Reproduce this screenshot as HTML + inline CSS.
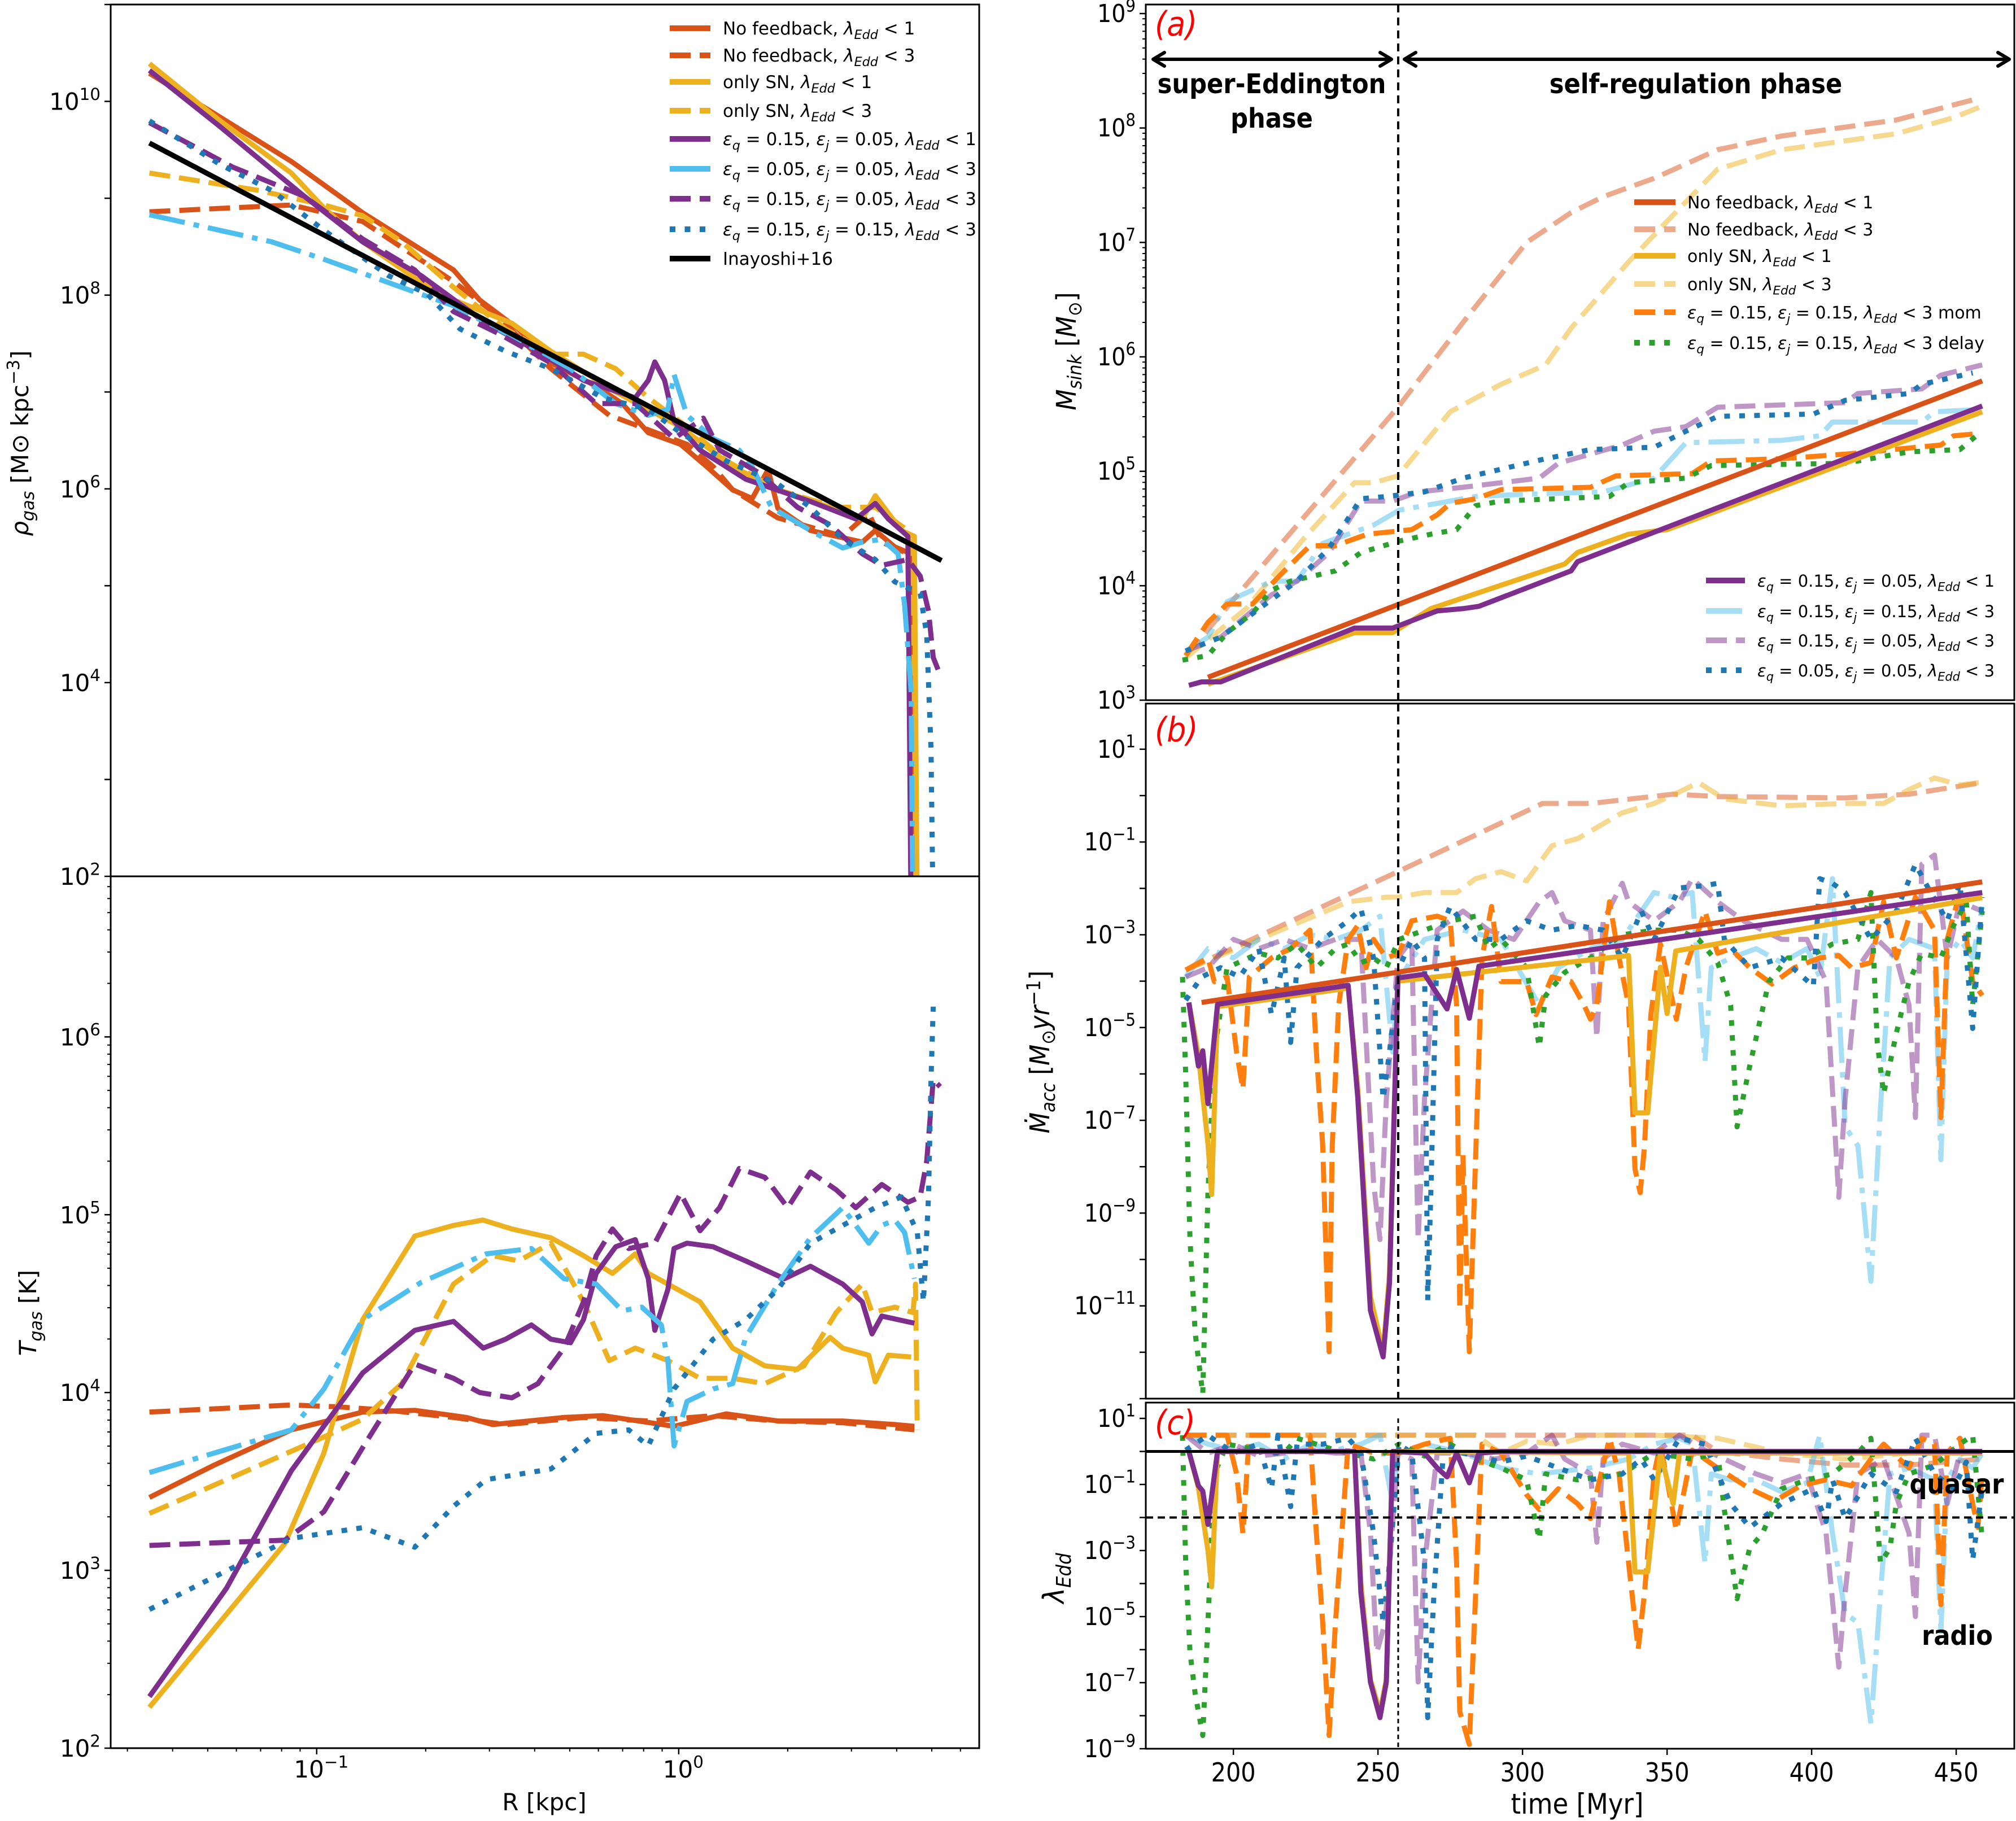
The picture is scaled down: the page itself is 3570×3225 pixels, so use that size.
<!DOCTYPE html>
<html><head><meta charset="utf-8">
<style>
html,body{margin:0;padding:0;background:#fff;}
svg{display:block;font-family:"DejaVu Sans","Liberation Sans",sans-serif;}
.cond{font-stretch:condensed;}
</style></head>
<body>
<svg id="fig" xmlns="http://www.w3.org/2000/svg" width="3570" height="3225" viewBox="0 0 3570 3225"></svg>
<script>
// ---------------- DATA (log10 values) ----------------
const rhoNF1x=[-1.462,-1.07,-0.873,-0.622,-0.55,-0.443,-0.353,-0.228,-0.156,-0.084,0.005,0.077,0.149,0.203,0.247,0.274,0.364,0.507,0.543,0.597,0.642,0.651];
const rhoNF1y=[10.29,9.38,8.85,8.26,7.95,7.65,7.30,7.06,6.88,6.58,6.46,6.23,5.99,5.90,6.2,5.8,5.57,5.45,5.57,5.4,5.33,1.5];
const rhoNF3x=[-1.462,-1.07,-0.873,-0.622,-0.514,-0.353,-0.192,-0.084,0.023,0.095,0.149,0.274,0.453,0.525,0.561,0.633,0.651];
const rhoNF3y=[8.86,8.93,8.76,8.14,7.83,7.24,6.76,6.61,6.46,6.23,5.99,5.7,5.51,5.75,5.45,5.33,1.5];
const rhoSN1x=[-1.462,-1.267,-1.07,-0.98,-0.873,-0.711,-0.622,-0.461,-0.353,-0.174,0.005,0.149,0.274,0.418,0.507,0.543,0.615,0.651,0.659];
const rhoSN1y=[10.39,9.8,9.26,8.9,8.55,8.13,7.95,7.71,7.42,7.0,6.64,6.23,5.99,5.81,5.69,5.93,5.57,5.51,1.5];
const rhoSN3x=[-1.462,-1.159,-0.98,-0.873,-0.765,-0.622,-0.478,-0.353,-0.263,-0.174,-0.084,0.023,0.131,0.274,0.435,0.543,0.633,0.642,0.654];
const rhoSN3y=[9.26,9.08,8.93,8.82,8.55,8.08,7.65,7.39,7.39,7.24,6.94,6.64,6.29,5.99,5.81,5.81,5.57,5.33,1.5];
const rhoP1x=[-1.462,-1.267,-1.034,-0.873,-0.711,-0.532,-0.389,-0.263,-0.12,-0.084,-0.066,-0.039,-0.013,0.059,0.185,0.364,0.489,0.543,0.579,0.633,0.642];
const rhoP1y=[10.32,9.74,9.02,8.55,8.2,7.71,7.42,7.12,6.94,7.12,7.31,7.12,6.70,6.4,6.1,5.87,5.69,5.85,5.69,5.51,1.5];
const rhoLBx=[-1.462,-1.124,-0.98,-0.765,-0.622,-0.443,-0.299,-0.174,-0.084,-0.03,-0.013,0.023,0.095,0.167,0.203,0.256,0.364,0.453,0.507,0.561,0.606,0.624,0.642,0.647];
const rhoLBy=[8.83,8.55,8.37,8.08,7.89,7.54,7.24,6.88,6.76,6.82,7.18,6.76,6.52,6.4,6.23,5.81,5.57,5.39,5.45,5.48,5.33,4.8,3.9,1.5];
const rhoP3x=[-1.462,-1.231,-1.034,-0.873,-0.729,-0.622,-0.496,-0.353,-0.228,-0.12,-0.013,0.068,0.113,0.22,0.328,0.418,0.507,0.561,0.633,0.667,0.69,0.703,0.722];
const rhoP3y=[9.78,9.32,9.02,8.58,8.26,7.83,7.6,7.3,6.88,6.88,6.52,6.73,6.40,6.17,5.81,5.63,5.33,5.21,5.27,5.1,4.74,4.26,4.08];
const rhoBDx=[-1.462,-1.267,-1.124,-0.98,-0.801,-0.694,-0.604,-0.478,-0.353,-0.21,-0.084,0.005,0.131,0.274,0.364,0.453,0.543,0.597,0.667,0.685,0.697,0.703];
const rhoBDy=[9.8,9.35,9.08,8.67,8.2,8.01,7.65,7.42,7.24,6.94,6.82,6.58,6.29,6.05,5.81,5.48,5.27,5.04,4.92,4.5,3.31,1.5];
const rhoInayX=[-1.462,0.726];
const rhoInayY=[9.57,5.26];
const tNF1x=[-1.462,-1.285,-1.07,-0.873,-0.729,-0.586,-0.514,-0.317,-0.21,-0.013,0.131,0.274,0.453,0.597,0.651];
const tNF1y=[3.41,3.59,3.79,3.89,3.9,3.86,3.82,3.86,3.87,3.81,3.88,3.84,3.84,3.82,3.81];
const tNF3x=[-1.462,-1.07,-0.944,-0.801,-0.622,-0.478,-0.263,-0.084,0.095,0.274,0.453,0.651];
const tNF3y=[3.89,3.93,3.92,3.9,3.86,3.82,3.86,3.84,3.87,3.84,3.83,3.79];
const tSN1x=[-1.462,-1.088,-0.98,-0.873,-0.729,-0.622,-0.541,-0.461,-0.353,-0.263,-0.183,-0.12,-0.084,-0.03,0.059,0.149,0.238,0.328,0.418,0.453,0.525,0.543,0.579,0.642];
const tSN1y=[2.23,3.15,3.66,4.41,4.88,4.94,4.97,4.92,4.87,4.77,4.67,4.78,4.67,4.61,4.51,4.25,4.15,4.13,4.31,4.25,4.21,4.06,4.21,4.2];
const tSN3x=[-1.462,-1.159,-0.98,-0.873,-0.765,-0.622,-0.514,-0.443,-0.353,-0.263,-0.192,-0.12,-0.03,0.059,0.149,0.238,0.346,0.435,0.507,0.534,0.597,0.647,0.654,0.659];
const tSN3y=[3.32,3.59,3.75,3.85,4.05,4.61,4.77,4.74,4.84,4.51,4.18,4.25,4.18,4.08,4.08,4.05,4.15,4.45,4.61,4.45,4.48,4.45,4.61,3.79];
const tP1x=[-1.462,-1.249,-1.07,-0.873,-0.729,-0.622,-0.54,-0.478,-0.407,-0.353,-0.299,-0.263,-0.228,-0.174,-0.12,-0.084,-0.066,-0.03,-0.013,0.023,0.095,0.185,0.292,0.364,0.453,0.507,0.534,0.561,0.651];
const tP1y=[2.29,2.9,3.56,4.11,4.35,4.4,4.25,4.3,4.38,4.3,4.28,4.41,4.67,4.82,4.86,4.64,4.35,4.58,4.81,4.84,4.82,4.74,4.64,4.71,4.61,4.51,4.33,4.43,4.39];
const tP3x=[-1.462,-1.088,-0.98,-0.873,-0.729,-0.622,-0.55,-0.461,-0.389,-0.317,-0.263,-0.228,-0.183,-0.138,-0.066,0.005,0.059,0.113,0.167,0.238,0.301,0.364,0.435,0.489,0.561,0.633,0.667,0.685,0.703,0.722];
const tP3y=[3.14,3.17,3.33,3.69,4.16,4.08,4.0,3.97,4.05,4.25,4.51,4.77,4.92,4.81,4.84,5.12,4.91,5.04,5.26,5.21,5.04,5.24,5.14,5.04,5.17,5.07,5.1,5.3,5.76,5.72];
const tLBx=[-1.462,-1.07,-0.98,-0.873,-0.711,-0.532,-0.407,-0.317,-0.228,-0.156,-0.102,-0.048,-0.03,-0.013,0.023,0.095,0.149,0.185,0.274,0.364,0.453,0.525,0.561,0.597,0.624,0.651];
const tLBy=[3.55,3.79,4.02,4.41,4.62,4.78,4.81,4.64,4.61,4.46,4.48,4.38,4.18,3.7,3.95,4.02,4.05,4.31,4.61,4.87,5.04,4.84,4.94,4.97,4.9,4.64];
const tBDx=[-1.462,-1.07,-0.873,-0.729,-0.622,-0.532,-0.353,-0.228,-0.138,-0.084,-0.013,0.095,0.185,0.274,0.364,0.453,0.543,0.615,0.659,0.676,0.69,0.697,0.703];
const tBDy=[2.78,3.18,3.24,3.13,3.36,3.51,3.57,3.77,3.79,3.7,4.02,4.3,4.41,4.58,4.84,4.94,5.04,5.1,4.9,4.51,5.1,5.76,6.17];

const aNF1t=[191.2,459];
const aNF1v=[3.2,5.79];
const aNF3t=[183.5,256.9,279.4,301.4,316.8,327.9,345.5,367.5,389.6,429.3,457.9];
const aNF3v=[3.39,5.56,6.3,7.0,7.26,7.40,7.56,7.81,7.93,8.07,8.26];
const aSN1t=[191.2,241.9,255.1,268.3,314.6,319,336.7,350,459];
const aSN1v=[3.14,3.59,3.59,3.80,4.19,4.29,4.45,4.49,5.52];
const aSN3t=[183.5,204.4,224.3,241.9,248.5,256.9,275,292.6,308,316.8,336.7,352.1,367.5,389.6,429.3,449.1,457.9];
const aSN3v=[3.37,3.8,4.41,4.9,4.9,4.96,5.52,5.76,5.93,6.25,6.83,7.24,7.64,7.81,7.95,8.09,8.18];
const aP1t=[184.6,189,195.6,241.9,255.1,270.5,279.4,284.9,316.8,319,459];
const aP1v=[3.13,3.16,3.16,3.63,3.63,3.78,3.8,3.82,4.13,4.21,5.57];
const aLBt=[183.5,191.2,197.8,213.2,222,230.9,248.5,257.3,266.1,283.8,301.4,327.9,345.5,356.5,389.6,402.8,407.2,438.1,442.5,459];
const aLBv=[3.43,3.55,3.86,4.04,4.04,4.37,4.53,4.66,4.7,4.78,4.8,4.82,4.94,5.25,5.27,5.31,5.43,5.43,5.52,5.54];
const aPPt=[183.5,195.6,213.2,222,233.1,244.1,255.1,263.9,279.4,305.8,312.4,334.5,345.5,356.5,367.5,411.6,416,438.1,444.7,459];
const aPPv=[3.43,3.55,3.92,4.04,4.29,4.74,4.74,4.82,4.86,4.94,5.07,5.23,5.35,5.39,5.56,5.6,5.68,5.72,5.84,5.93];
const aBDt=[183.5,195.6,213.2,222,233.1,244.1,252.9,266.1,279.4,308,323.5,345.5,356.5,367.5,400.6,411.6,433.7,438.1,455.7];
const aBDv=[3.43,3.55,3.88,4.04,4.33,4.76,4.78,4.82,4.94,5.11,5.19,5.21,5.35,5.48,5.5,5.62,5.68,5.76,5.86];
const aORt=[183.5,191.2,197.8,206.6,217.6,226.5,235.3,246.3,261.7,270.5,275,283.8,292.6,323.5,332.3,358.7,365.3,389.6,411.6,444.7,449.1,457.9];
const aORv=[3.39,3.68,3.84,3.84,4.13,4.35,4.35,4.45,4.49,4.62,4.72,4.76,4.84,4.86,4.96,4.98,5.09,5.11,5.15,5.23,5.31,5.33];
const aGRt=[182.4,191.2,197.8,206.6,213.2,219.8,235.3,244.1,257.3,268.3,277.2,283.8,292.6,330.1,336.7,356.5,365.3,411.6,433.7,451.3,457.9];
const aGRv=[3.35,3.39,3.59,3.76,3.96,4.04,4.13,4.29,4.39,4.45,4.49,4.7,4.74,4.78,4.9,4.94,5.05,5.07,5.17,5.19,5.33];

const bNF1t=[189,459];
const bNF1v=[-4.46,-1.86];
const bNF3t=[183.5,256.9,306.9,323.5,352.1,367.5,411.6,433.7,459];
const bNF3v=[-3.76,-1.64,-0.17,-0.17,0.03,-0.02,-0.05,0.03,0.28];
const bSN3t=[183.5,239.7,252.9,256.9,266.1,277.2,283.8,292.6,301.4,310.2,319,334.5,345.5,354.3,360.9,369.8,389.6,411.6,424.9,433.7,442.5,451.3,457.9];
const bSN3v=[-3.76,-2.29,-2.19,-2.19,-2.09,-2.09,-1.79,-1.64,-1.84,-1.08,-0.93,-0.37,-0.17,0.08,0.28,-0.07,-0.22,-0.17,-0.17,0.13,0.38,0.23,0.28];
const bP1t=[184.6,187.9,189.4,191.2,194.5,239.7,243,247.4,251.8,254,256.9,266.1,273.9,277.2,281.6,284.9,459];
const bP1v=[-4.46,-5.83,-5.5,-6.64,-4.5,-4.09,-6.5,-11.1,-12.1,-10.5,-3.93,-3.85,-4.6,-3.75,-4.8,-3.68,-2.09];
const bSN1t=[184.6,187.9,191.2,192.5,194.5,239.7,243,247.4,251.8,254,256.9,336.7,338.9,343.3,347.7,350,353,459];
const bSN1v=[-4.46,-5.6,-7.5,-8.6,-4.55,-4.15,-6.3,-10.8,-12.0,-10.3,-4.0,-3.45,-6.84,-6.84,-3.7,-4.7,-3.35,-2.2];
const bORt=[183.5,191.2,193.4,197.8,201.1,203.3,205.5,213.2,219.8,226.5,228.7,230.9,233.1,234.2,236.4,239.7,243,245.9,248.5,252.9,257.3,261.7,270.5,275,277.2,278.3,279.4,281.6,283.8,286,289.3,292.6,301.4,304.7,310.2,316.8,321.3,323.5,325.7,330.1,333.4,336.7,338.9,340.7,342.2,344.4,347.7,353.2,356.5,363.1,367.5,372,378.6,386.3,394,402.8,409.4,413.8,420.5,424.9,429.3,435.9,442.5,444.7,446.9,451.3,455.7,459];
const bORv=[-3.76,-3.5,-4.01,-3.91,-5.53,-6.33,-3.91,-3.5,-3.3,-2.9,-5.53,-7.55,-11.99,-7.55,-4.52,-3.1,-2.8,-3.71,-3.1,-3.5,-3.4,-2.7,-2.6,-2.7,-4.52,-11.08,-7.75,-11.99,-7.75,-3.5,-2.39,-4.01,-4.01,-4.72,-3.91,-4.01,-4.52,-4.82,-4.52,-2.29,-3.5,-4.52,-8.05,-8.56,-7.55,-4.72,-3.2,-4.82,-3.71,-2.49,-3.4,-3.3,-3.71,-4.06,-3.71,-3.5,-3.45,-3.71,-3.6,-2.29,-3.5,-2.19,-2.9,-6.94,-3.1,-2.09,-4.01,-4.31];
const bGRt=[182.4,183.5,185,186.8,189.4,191.2,193.4,197.8,208.8,215.4,222,228.7,235.3,239.7,244.1,248.5,252.9,257.3,266.1,275,283.8,288.2,292.6,301.4,305.8,308,314.6,323.5,334.5,345.5,354.3,360.9,367.5,372,374.2,378.6,385.2,391.8,398.4,407.2,416,420.5,422.7,424.9,429.3,433.7,438.1,444.7,449.1,453.5,455.7,459];
const bGRv=[-3.91,-6.03,-9.57,-11.59,-12.9,-8.56,-5.53,-3.71,-3.4,-3.5,-3.2,-3.71,-3.3,-3.2,-3.6,-3.5,-3.71,-3.1,-2.9,-2.7,-2.6,-3.3,-3.1,-3.71,-5.42,-4.31,-3.81,-3.5,-3,-2.9,-2.9,-3.1,-3.6,-4.52,-7.14,-5.83,-4.01,-3.5,-3.5,-3.2,-3.1,-2.09,-5.32,-6.43,-5.12,-4.01,-3.4,-3.5,-2.8,-2.29,-4.52,-2.49];
const bBDt=[183.5,189,195.6,202.2,208.8,213.2,217.6,219.8,222,230.9,239.7,244.1,248.5,251.8,254,257.3,261.7,266.1,267.2,268.3,270.5,275,283.8,292.6,301.4,310.2,319,327.9,334.5,341.1,345.5,354.3,363.1,367.5,369.8,378.6,389.6,400.6,402.8,407.2,411.6,420.5,429.3,435.9,440.3,446.9,451.3,455.7,459];
const bBDv=[-4.41,-3.91,-3.71,-3.91,-3.3,-4.72,-3.5,-5.32,-3.71,-3.1,-2.7,-2.44,-3.5,-6.54,-5.53,-3.71,-3.1,-3.5,-10.88,-8.56,-3.1,-2.39,-3.1,-3.1,-2.7,-2.9,-2.8,-2.9,-3.5,-2.49,-3.1,-1.99,-1.94,-1.89,-3.1,-3.71,-3.5,-4.11,-1.79,-1.89,-2.09,-3.1,-2.49,-1.48,-1.99,-2.7,-1.89,-5.02,-2.19];
const bLBt=[183.5,191.2,200,208.8,217.6,226.5,235.3,244.1,250.7,255.1,256.9,266.1,279.4,292.6,305.8,312.4,323.5,334.5,345.5,352.1,358.7,363.1,365.3,372,380.8,389.6,398.4,402.8,407.2,411.6,416,420.5,423.8,427.1,433.7,442.5,444.7,446.9,451.3,455.7,459];
const bLBv=[-3.91,-3.3,-3.5,-3.1,-3.3,-3,-3.1,-2.9,-2.6,-5.53,-4.01,-3.1,-2.9,-3.1,-4.52,-3.71,-3.3,-3.1,-2.09,-2.19,-2.09,-5.73,-3.71,-3.5,-3.3,-3.6,-3.3,-3.91,-1.79,-7.14,-7.55,-10.47,-6.74,-3.5,-3.1,-3.3,-7.85,-3.5,-3.1,-3.5,-2.39];
const bPPt=[183.5,191.2,200,208.8,217.6,226.5,235.3,244.1,248.5,250.7,252.9,256.9,261.7,263.9,266.1,270.5,279.4,288.2,297,305.8,310.2,314.6,323.5,325.7,327.9,334.5,336.7,345.5,354.3,358.7,367.5,376.4,389.6,398.4,405,409.4,411.6,416,422.7,429.3,433.7,435.9,438.1,442.5,446.9,451.3,459];
const bPPv=[-3.91,-3.71,-3.1,-3.3,-3.1,-3.3,-3.1,-3.1,-8.35,-9.57,-6.54,-3.5,-3.1,-9.57,-6.54,-2.9,-2.49,-2.9,-3.1,-2.29,-2.09,-2.7,-2.9,-5.22,-2.7,-1.89,-2.29,-2.7,-2.29,-1.79,-2.29,-2.7,-3.1,-3.1,-4.01,-8.66,-6.54,-3.71,-3.1,-3.5,-4.52,-6.94,-1.48,-1.28,-3.5,-2.29,-2.49];

const cNF3t=[183.5,358.7,367.5,389.6,411.6,433.7,459];
const cNF3v=[0.49,0.49,0.0,-0.23,-0.41,-0.41,-0.23];
const cSN3t=[183.5,283.8,292.6,301.4,312.4,323.5,345.5,367.5,389.6,411.6,433.7,459];
const cSN3v=[0.49,0.49,-0.05,0.31,0.22,0.49,0.49,0.4,-0.05,-0.23,-0.05,-0.05];
const cP1t=[184.6,187.9,189.4,191.2,194.5,241.9,244.1,247.4,250.7,252.9,255.1,266.1,270.5,273.9,277.2,281.6,284.9,292.6,459];
const cP1v=[0,-1.04,-1.2,-2.21,0,0,-4.28,-6.98,-8.06,-6.98,0,-0.05,-0.5,-0.77,-0.05,-0.95,-0.05,0,0];
const cSN1t=[184.6,187.9,191.2,192.5,194.5,241.9,244.1,247.4,250.7,252.9,255.1,336.7,338.9,343.3,347.7,352.1,354.3,459];
const cSN1v=[0,-1.1,-3.0,-4.1,0,0,-4.0,-6.9,-7.9,-6.9,0,-0.05,-3.65,-3.65,-0.05,-1.58,-0.05,-0.05];
const cORt=[183.5,197.8,201.1,203.3,205.5,226.5,228.7,230.9,233.1,235.3,239.7,248.5,257.3,266.1,275,277.2,278.3,281.6,283.8,286,292.6,301.4,305.8,312.4,319,323.5,330.1,333.4,336.7,340,342.2,345.5,347.7,353.2,358.7,367.5,378.6,387.4,396.2,405,413.8,420.5,424.9,433.7,438.1,442.5,444.7,446.9,451.3,455.7,457.5,459];
const cORv=[0.49,0.49,-0.68,-2.48,0.49,0.49,-2.48,-5.18,-8.6,-5.18,0.22,-0.05,-0.05,0.22,0.4,-3.38,-7.88,-8.87,-4.28,0.22,-0.05,-1.31,-1.76,-1.13,-1.58,-2.03,0.4,-0.68,-3.38,-5.99,-4.28,-0.68,0.22,-2.39,0.04,-0.5,-1.13,-1.49,-1.04,-0.86,-1.04,-0.23,0.22,-0.5,0.4,0.22,-4.64,-0.05,0.4,-1.58,-2.3,-0.68];
const cGRt=[182.4,183.5,185,186.8,189.4,191.2,193.4,197.8,208.8,217.6,222,235.3,248.5,257.3,266.1,275,283.8,292.6,301.4,305.8,308,319,334.5,345.5,358.7,367.5,369.8,374.2,378.6,383,389.6,398.4,407.2,416,420.5,423.8,427.1,429.3,433.7,442.5,451.3,455.7,459];
const cGRv=[0.49,-3.38,-6.08,-7.34,-8.6,-5.18,-0.68,0.22,0.04,-0.05,0.4,0.04,-0.23,0.22,-0.14,0.22,-0.23,-0.5,-0.86,-2.66,-0.68,-0.86,-0.68,-0.05,-0.23,-0.05,-1.76,-4.46,-2.93,-2.48,-1.13,-0.86,-0.68,-0.05,0.4,-3.38,-2.93,-1.58,-0.68,-0.41,0.22,0.49,-2.66];
const cBDt=[183.5,191.2,200,208.8,213.2,215.4,219.8,222,230.9,239.7,244.1,248.5,251.8,254,257.3,261.7,266.1,267.2,269.4,272.8,279.4,292.6,301.4,312.4,323.5,334.5,341.1,345.5,354.3,363.1,372,378.6,389.6,400.6,405,407.2,411.6,420.5,429.3,435.9,442.5,449.1,453.5,455.7,459];
const cBDv=[0.04,0.49,-0.05,0.22,-1.13,0.49,-1.67,0.22,0.22,0.4,-0.05,-2.48,-5.18,-3.38,0.22,-0.05,-3.38,-8.06,-4.28,0.22,-0.05,-0.32,-0.14,-0.5,-0.86,-0.68,-0.23,-0.86,0.4,0.22,-1.58,-2.3,-1.58,-1.13,-2.12,-0.86,-2.03,-0.68,-1.22,0.4,-0.68,-1.13,-0.32,-3.29,-1.13];
const cLBt=[183.5,191.2,200,208.8,217.6,226.5,235.3,244.1,250.7,255.1,256.9,266.1,279.4,292.6,305.8,323.5,336.7,345.5,354.3,358.7,363.1,365.3,372,380.8,389.6,398.4,402.8,407.2,411.6,416,420.5,423.8,427.1,433.7,442.5,444.7,446.9,451.3,455.7,459];
const cLBv=[0.49,0.22,0.04,0.22,-0.23,0.22,0.04,0.22,0.49,-1.58,-0.05,0.22,-0.05,-0.5,-0.68,-0.5,-0.23,0.22,0.4,0.22,-3.38,-0.68,-0.86,-0.86,-1.22,-0.95,0.49,-2.48,-4.91,-5.18,-8.24,-4.28,-0.68,-0.5,-0.86,-5.45,-0.86,-0.23,-0.5,-0.05];
const cPPt=[183.5,191.2,200,208.8,217.6,226.5,235.3,244.1,247.4,249.6,252.5,256.9,261.7,263.9,266.1,270.5,279.4,290.4,301.4,310.2,314.6,323.5,325.7,327.9,334.5,345.5,354.3,363.1,372,380.8,389.6,398.4,405,409.4,411.6,416,424.9,433.7,435.9,438.1,442.5,446.9,451.3,459];
const cPPv=[0.49,-0.05,0.22,-0.14,-0.05,0.04,-0.05,-0.05,-2.48,-6.08,-5.18,-0.05,-0.23,-6.98,-3.38,-0.05,-0.05,-0.23,-0.05,0.49,-0.23,-0.68,-2.75,-0.23,0.22,-0.05,0.49,0.04,-0.32,-0.68,-0.95,-0.68,-2.48,-6.53,-4.28,-0.68,-0.23,-2.48,-5.0,0.49,0.49,-1.58,-0.05,-0.05];
const cQuasarLine=[0];
const cRadioLine=[-2];
const phaseSplit=[257];

// ---------------- RENDERING ----------------
const NS='http://www.w3.org/2000/svg';
const fig=document.getElementById('fig');
function el(tag,attrs,parent){const e=document.createElementNS(NS,tag);for(const k in attrs)e.setAttribute(k,attrs[k]);(parent||fig).appendChild(e);return e;}

const C={red:'#d95319',yel:'#edb120',pur:'#7e2f8e',lb:'#4dbeee',bd:'#1f77b4',or:'#ff7f0e',gr:'#2ca02c'};
const DASH={solid:null,dashed:'37 16',dotted:'10 16.5',dashdot:'64 16 10 16'};

function mkPanel(id,x0,x1,y0,y1,xmin,xmax,ymin,ymax,xlog){
  const p={x0,x1,y0,y1,xmin,xmax,ymin,ymax,xlog};
  p.fx=v=>x0+(v-xmin)/(xmax-xmin)*(x1-x0);
  p.fy=v=>y1-(v-ymin)/(ymax-ymin)*(y1-y0);
  const cp=el('clipPath',{id:'clip-'+id});
  el('rect',{x:x0,y:y0,width:x1-x0,height:y1-y0},cp);
  p.g=el('g',{'clip-path':'url(#clip-'+id+')'});
  
  
  return p;
}
function series(p,xs,ys,color,style,width,opacity,name){
  const n=Math.min(xs.length,ys.length);let d='';
  for(let i=0;i<n;i++){d+=(i?'L':'M')+p.fx(xs[i]).toFixed(1)+','+p.fy(ys[i]).toFixed(1);}
  const e=el('path',{d:d,fill:'none',stroke:color,'stroke-width':width||9,'stroke-linejoin':'round','stroke-opacity':opacity||1},p.g);
  if(DASH[style])e.setAttribute('stroke-dasharray',DASH[style]);
  
  
  return e;
}
function frame(p,name){
  const r=el('rect',{x:p.x0,y:p.y0,width:p.x1-p.x0,height:p.y1-p.y0,fill:'none',stroke:'#000','stroke-width':3});
  
  
}
function powLabel(x,y,exp,size,anchor,cls,name){
  const t=el('text',{x:x,y:y,'font-size':size,'text-anchor':anchor||'end',fill:'#000'});
  if(cls)t.setAttribute('class',cls);
  t.innerHTML='10<tspan dy="'+(-size*0.42)+'" font-size="'+(size*0.7)+'">'+String(exp).replace('-','\u2212')+'</tspan>';
  
  
  return t;
}
function yTicks(p,labels,allDec,minor,size,cls,prefix){
  for(let e=Math.ceil(p.ymin);e<=Math.floor(p.ymax);e++){
    const y=p.fy(e);
    if(allDec||labels.includes(e)){el('line',{x1:p.x0-11,x2:p.x0,y1:y,y2:y,stroke:'#000','stroke-width':2.5});}
    if(labels.includes(e)){powLabel(p.x0-18,y+15,e,size,'end',cls,prefix+'-tick-'+e);}
  }
  if(minor){
    for(let e=Math.floor(p.ymin);e<=Math.ceil(p.ymax);e++){
      for(let m=2;m<10;m++){const v=e+Math.log10(m);if(v>p.ymin&&v<p.ymax){const y=p.fy(v);el('line',{x1:p.x0-6,x2:p.x0,y1:y,y2:y,stroke:'#000','stroke-width':2});}}
    }
  }
}

const XL0=196,XL1=1734;
const rho=mkPanel('density-panel',XL0,XL1,8,1552,-1.569,0.83,2,11,true);
const tem=mkPanel('temperature-panel',XL0,XL1,1552,3096,-1.569,0.83,2,6.903,true);

series(rho,rhoInayX,rhoInayY,'#000','solid',9,1,'inayoshi-line');
series(rho,rhoNF1x,rhoNF1y,C.red,'solid',9,1,'rho-no-feedback-l1');
series(rho,rhoNF3x,rhoNF3y,C.red,'dashed',9,1,'rho-no-feedback-l3');
series(rho,rhoSN1x,rhoSN1y,C.yel,'solid',9,1,'rho-only-sn-l1');
series(rho,rhoSN3x,rhoSN3y,C.yel,'dashed',9,1,'rho-only-sn-l3');
series(rho,rhoP1x,rhoP1y,C.pur,'solid',9,1,'rho-eq015-ej005-l1');
series(rho,rhoLBx,rhoLBy,C.lb,'dashdot',9,1,'rho-eq005-ej005-l3');
series(rho,rhoP3x,rhoP3y,C.pur,'dashed',9,1,'rho-eq015-ej005-l3');
series(rho,rhoBDx,rhoBDy,C.bd,'dotted',9,1,'rho-eq015-ej015-l3');
series(rho,rhoInayX,rhoInayY,'#000','solid',9,1,'inayoshi-line-top');

series(tem,tNF1x,tNF1y,C.red,'solid',9,1,'t-no-feedback-l1');
series(tem,tNF3x,tNF3y,C.red,'dashed',9,1,'t-no-feedback-l3');
series(tem,tSN1x,tSN1y,C.yel,'solid',9,1,'t-only-sn-l1');
series(tem,tSN3x,tSN3y,C.yel,'dashed',9,1,'t-only-sn-l3');
series(tem,tP1x,tP1y,C.pur,'solid',9,1,'t-eq015-ej005-l1');
series(tem,tLBx,tLBy,C.lb,'dashdot',9,1,'t-eq005-ej005-l3');
series(tem,tP3x,tP3y,C.pur,'dashed',9,1,'t-eq015-ej005-l3');
series(tem,tBDx,tBDy,C.bd,'dotted',9,1,'t-eq015-ej015-l3');

frame(rho,'density-axes-frame');
frame(tem,'temperature-axes-frame');
yTicks(rho,[2,4,6,8,10],true,false,42,'','density-y');
yTicks(tem,[2,3,4,5,6],true,true,42,'','temperature-y');
for(let e=-2;e<=1;e++){
  for(let m=1;m<10;m++){
    const v=e+Math.log10(m);if(v<tem.xmin||v>tem.xmax)continue;
    const x=tem.fx(v);
    el('line',{x1:x,x2:x,y1:3096,y2:3096+(m===1?11:6),stroke:'#000','stroke-width':m===1?2.5:2});
    if(m===1)powLabel(x+8,3148,e,42,'middle','','r-tick-'+e);
  }
}
let t;
t=el('text',{x:964,y:3206,'font-size':42,'text-anchor':'middle'});t.textContent='R [kpc]';

t=el('text',{x:0,y:0,'font-size':42,'text-anchor':'middle',transform:'translate(50,785) rotate(-90)'});
t.innerHTML='<tspan font-style="italic">ρ</tspan><tspan font-style="italic" font-size="30" dy="10">gas</tspan><tspan dy="-10"> [M</tspan><tspan>⊙</tspan><tspan> kpc</tspan><tspan font-size="30" dy="-16">−3</tspan><tspan dy="16">]</tspan>';

t=el('text',{x:0,y:0,'font-size':42,'text-anchor':'middle',transform:'translate(64,2325) rotate(-90)'});
t.innerHTML='<tspan font-style="italic">T</tspan><tspan font-style="italic" font-size="30" dy="10">gas</tspan><tspan dy="-10"> [K]</tspan>';


function legendText(x,y,pre,lam,size){
  const tt=el('text',{x:x,y:y,'font-size':size});
  let s=pre;
  s+='<tspan font-style="italic">λ</tspan><tspan font-style="italic" font-size="'+(size*0.72)+'" dy="'+(size*0.25)+'">Edd</tspan><tspan dy="'+(-size*0.25)+'"> &lt; '+lam+'</tspan>';
  tt.innerHTML=s;return tt;
}
function eps(q,j,size){return '<tspan font-style="italic">ε</tspan><tspan font-style="italic" font-size="'+(size*0.72)+'" dy="'+(size*0.25)+'">q</tspan><tspan dy="'+(-size*0.25)+'"> = '+q+', </tspan><tspan font-style="italic">ε</tspan><tspan font-style="italic" font-size="'+(size*0.72)+'" dy="'+(size*0.25)+'">j</tspan><tspan dy="'+(-size*0.25)+'"> = '+j+', </tspan>';}
function legendEntry(lx0,lx1,tx,y,color,style,op,pre,lam,suffix,name,fs){
  fs=fs||31;
  const g=el('g',{});
  
  
  const ln=el('line',{x1:lx0,x2:lx1,y1:y,y2:y,stroke:color,'stroke-width':10,'stroke-opacity':op},g);
  if(DASH[style])ln.setAttribute('stroke-dasharray',DASH[style]);
  let tx2;
  if(lam===null){tx2=el('text',{x:tx,y:y+11,'font-size':fs},g);tx2.textContent=pre;}
  else{tx2=legendText(tx,y+11,pre,lam,fs);g.appendChild(tx2);if(suffix){tx2.innerHTML+='<tspan>'+suffix+'</tspan>';}}
}
const LL=[
 [C.red,'solid',1,'No feedback, ','1','','legend-no-feedback-l1'],
 [C.red,'dashed',1,'No feedback, ','3','','legend-no-feedback-l3'],
 [C.yel,'solid',1,'only SN, ','1','','legend-only-sn-l1'],
 [C.yel,'dashed',1,'only SN, ','3','','legend-only-sn-l3'],
 [C.pur,'solid',1,eps('0.15','0.05',31),'1','','legend-eq015-ej005-l1'],
 [C.lb,'solid',1,eps('0.05','0.05',31),'3','','legend-eq005-ej005-l3'],
 [C.pur,'dashed',1,eps('0.15','0.05',31),'3','','legend-eq015-ej005-l3'],
 [C.bd,'dotted',1,eps('0.15','0.15',31),'3','','legend-eq015-ej015-l3']];
const LLy=[50,98,145,196,246,299,352,406];
LL.forEach((r,i)=>legendEntry(1186,1258,1280,LLy[i],r[0],r[1],r[2],r[3],r[4],r[5],r[6]));
legendEntry(1186,1258,1280,458,'#000','solid',1,'Inayoshi+16',null,'','legend-inayoshi');

const XR0=2029,XR1=3567,TMIN=169.7,TMAX=470.1;
const pa=mkPanel('mass-panel',XR0,XR1,8,1240,TMIN,TMAX,3,9+16/202.6,false);
const pb=mkPanel('accretion-panel',XR0,XR1,1246,2477,TMIN,TMAX,-13,1+81/82.3,false);
const pc=mkPanel('eddington-panel',XR0,XR1,2484,3097,TMIN,TMAX,-9,1+28/58.5,false);

function drawSet(p,pre,S){
  S.forEach(s=>series(p,s[0],s[1],s[2],s[3],9,s[4],pre+'-'+s[5]));
}
drawSet(pa,'mass',[
 [aNF3t,aNF3v,C.red,'dashed',0.5,'no-feedback-l3'],
 [aSN3t,aSN3v,C.yel,'dashed',0.5,'only-sn-l3'],
 [aLBt,aLBv,C.lb,'dashdot',0.5,'eq015-ej015-l3'],
 [aPPt,aPPv,C.pur,'dashed',0.5,'eq015-ej005-l3'],
 [aORt,aORv,C.or,'dashed',1,'eq015-ej015-mom'],
 [aGRt,aGRv,C.gr,'dotted',1,'eq015-ej015-delay'],
 [aBDt,aBDv,C.bd,'dotted',1,'eq005-ej005-l3'],
 [aNF1t,aNF1v,C.red,'solid',1,'no-feedback-l1'],
 [aSN1t,aSN1v,C.yel,'solid',1,'only-sn-l1'],
 [aP1t,aP1v,C.pur,'solid',1,'eq015-ej005-l1']]);
drawSet(pb,'mdot',[
 [bNF3t,bNF3v,C.red,'dashed',0.5,'no-feedback-l3'],
 [bSN3t,bSN3v,C.yel,'dashed',0.5,'only-sn-l3'],
 [bLBt,bLBv,C.lb,'dashdot',0.5,'eq015-ej015-l3'],
 [bPPt,bPPv,C.pur,'dashed',0.5,'eq015-ej005-l3'],
 [bORt,bORv,C.or,'dashed',1,'eq015-ej015-mom'],
 [bGRt,bGRv,C.gr,'dotted',1,'eq015-ej015-delay'],
 [bBDt,bBDv,C.bd,'dotted',1,'eq005-ej005-l3'],
 [bNF1t,bNF1v,C.red,'solid',1,'no-feedback-l1'],
 [bSN1t,bSN1v,C.yel,'solid',1,'only-sn-l1'],
 [bP1t,bP1v,C.pur,'solid',1,'eq015-ej005-l1']]);
drawSet(pc,'lambda',[
 [cNF3t,cNF3v,C.red,'dashed',0.5,'no-feedback-l3'],
 [cSN3t,cSN3v,C.yel,'dashed',0.5,'only-sn-l3'],
 [cLBt,cLBv,C.lb,'dashdot',0.5,'eq015-ej015-l3'],
 [cPPt,cPPv,C.pur,'dashed',0.5,'eq015-ej005-l3'],
 [cORt,cORv,C.or,'dashed',1,'eq015-ej015-mom'],
 [cGRt,cGRv,C.gr,'dotted',1,'eq015-ej015-delay'],
 [cBDt,cBDv,C.bd,'dotted',1,'eq005-ej005-l3'],
 [cSN1t,cSN1v,C.yel,'solid',1,'only-sn-l1'],
 [cP1t,cP1v,C.pur,'solid',1,'eq015-ej005-l1']]);
let hl=el('line',{x1:XR0,x2:XR1,y1:pc.fy(cQuasarLine[0]),y2:pc.fy(cQuasarLine[0]),stroke:'#000','stroke-width':5},pc.g);

hl=el('line',{x1:XR0,x2:XR1,y1:pc.fy(cRadioLine[0]),y2:pc.fy(cRadioLine[0]),stroke:'#000','stroke-width':4,'stroke-dasharray':'13 8'},pc.g);

[pa,pb,pc].forEach((p,i)=>{
  const v=el('line',{x1:p.fx(phaseSplit[0]),x2:p.fx(phaseSplit[0]),y1:p.y0+(i==2?28:0),y2:p.y1,stroke:'#000','stroke-width':i==2?3:4,'stroke-dasharray':i==2?'8 6':'14 9'});
  
});
frame(pa,'mass-axes-frame');frame(pb,'accretion-axes-frame');frame(pc,'eddington-axes-frame');
yTicks(pa,[3,4,5,6,7,8,9],true,true,44,'cond','mass-y');
yTicks(pb,[1,-1,-3,-5,-7,-9,-11],true,false,44,'cond','mdot-y');
yTicks(pc,[1,-1,-3,-5,-7,-9],true,false,44,'cond','lambda-y');
const TT=[200,250,300,350,400,450];
TT.forEach(v=>{const x=pc.fx(v);el('line',{x1:x,x2:x,y1:3097,y2:3108,stroke:'#000','stroke-width':2.5});
  const tx=el('text',{x:x,y:3155,'font-size':46,'text-anchor':'middle',class:'cond'});tx.textContent=v;
  });
t=el('text',{x:2793,y:3212,'font-size':50,'text-anchor':'middle',class:'cond'});t.textContent='time [Myr]';

t=el('text',{x:0,y:0,'font-size':48,'text-anchor':'middle',class:'cond',transform:'translate(1905,622) rotate(-90)'});
t.innerHTML='<tspan font-style="italic">M</tspan><tspan font-style="italic" font-size="34" dy="10">sink</tspan><tspan dy="-10"> [</tspan><tspan font-style="italic">M</tspan><tspan font-size="34" dy="10">⊙</tspan><tspan dy="-10">]</tspan>';

t=el('text',{x:0,y:0,'font-size':48,'text-anchor':'middle',class:'cond',transform:'translate(1858,1863) rotate(-90)'});
t.innerHTML='<tspan font-style="italic">Ṁ</tspan><tspan font-style="italic" font-size="34" dy="10">acc</tspan><tspan dy="-10"> [</tspan><tspan font-style="italic">M</tspan><tspan font-size="34" dy="10">⊙</tspan><tspan dy="-10" font-style="italic">yr</tspan><tspan font-size="34" dy="-16">−1</tspan><tspan dy="16">]</tspan>';

t=el('text',{x:0,y:0,'font-size':52,'text-anchor':'middle',class:'cond',transform:'translate(1884,2795) rotate(-90)'});
t.innerHTML='<tspan font-style="italic">λ</tspan><tspan font-style="italic" font-size="36" dy="12">Edd</tspan>';

[['(a)',63,'panel-label-a'],['(b)',1313,'panel-label-b'],['(c)',2540,'panel-label-c']].forEach(r=>{
  const tx=el('text',{x:2045,y:r[1],'font-size':60,'font-style':'italic',fill:'#ff0000',class:'cond'});tx.textContent=r[0];
  });
function arrow(x0,x1,y,name){
  const g=el('g',{});
  el('line',{x1:x0+4,x2:x1-4,y1:y,y2:y,stroke:'#000','stroke-width':6},g);
  el('path',{d:`M${x0+22},${y-12} L${x0+2},${y} L${x0+22},${y+12}`,fill:'none',stroke:'#000','stroke-width':6,'stroke-linecap':'round','stroke-linejoin':'round'},g);
  el('path',{d:`M${x1-22},${y-12} L${x1-2},${y} L${x1-22},${y+12}`,fill:'none',stroke:'#000','stroke-width':6,'stroke-linecap':'round','stroke-linejoin':'round'},g);
}
arrow(2040,2466,105,'super-eddington-arrow');
arrow(2485,3560,105,'self-regulation-arrow');
[['super-Eddington',2252,165,'super-eddington-label'],['phase',2252,226,'super-eddington-phase-label'],['self-regulation phase',3003,165,'self-regulation-label'],['quasar',3465,2645,'quasar-label'],['radio',3466,2913,'radio-label']].forEach(r=>{
  const tx=el('text',{x:r[1],y:r[2],'font-size':48,'font-weight':'bold','text-anchor':'middle',class:'cond'});tx.textContent=r[0];
  });
const RL1=[
 [C.red,'solid',1,'No feedback, ','1','','mass-legend-no-feedback-l1'],
 [C.red,'dashed',0.5,'No feedback, ','3','','mass-legend-no-feedback-l3'],
 [C.yel,'solid',1,'only SN, ','1','','mass-legend-only-sn-l1'],
 [C.yel,'dashed',0.5,'only SN, ','3','','mass-legend-only-sn-l3'],
 [C.or,'dashed',1,eps('0.15','0.15',30),'3',' mom','mass-legend-mom'],
 [C.gr,'dotted',1,eps('0.15','0.15',30),'3',' delay','mass-legend-delay']];
const RL1y=[358,406,453,503,553,607];
RL1.forEach((r,i)=>legendEntry(2894,2967,2988,RL1y[i],r[0],r[1],r[2],r[3],r[4],r[5],r[6],30));
const RL2=[
 [C.pur,'solid',1,eps('0.15','0.05',29),'1','','mass-legend-eq015-ej005-l1'],
 [C.lb,'dashdot',0.5,eps('0.15','0.15',29),'3','','mass-legend-eq015-ej015-l3'],
 [C.pur,'dashed',0.5,eps('0.15','0.05',29),'3','','mass-legend-eq015-ej005-l3'],
 [C.bd,'dotted',1,eps('0.05','0.05',29),'3','','mass-legend-eq005-ej005-l3']];
const RL2y=[1028,1082,1134,1187];
RL2.forEach((r,i)=>legendEntry(3021,3090,3112,RL2y[i],r[0],r[1],r[2],r[3],r[4],r[5],r[6],29));
</script>
</body></html>
